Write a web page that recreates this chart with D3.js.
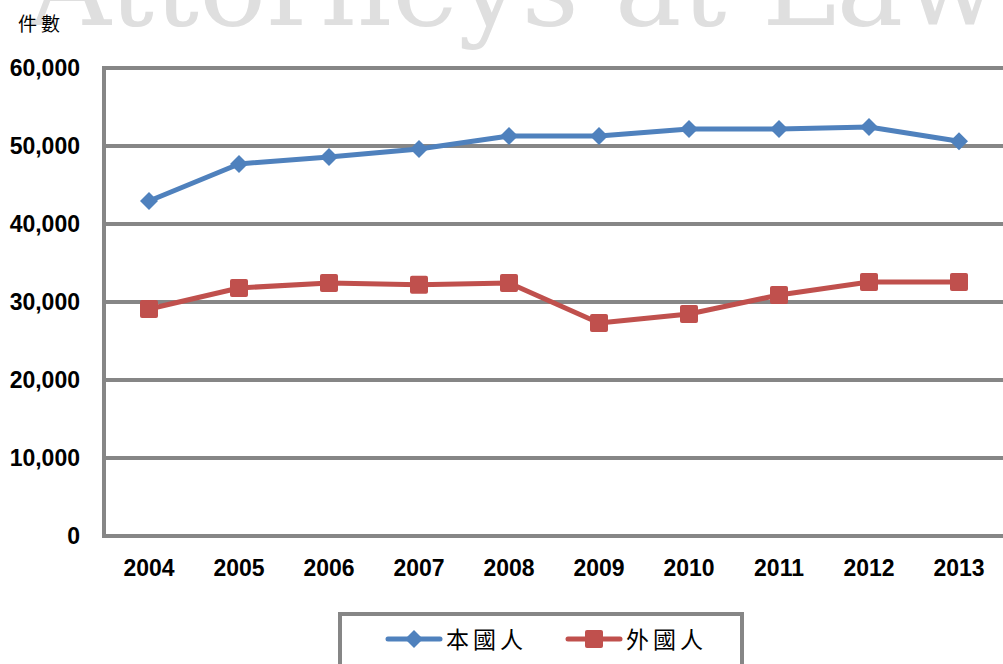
<!DOCTYPE html>
<html>
<head>
<meta charset="utf-8">
<script src="https://cdn.jsdelivr.net/npm/d3@7"></script>
<style>
  body { margin: 0; background: #fff; }
  svg { display: block; }
</style>
</head>
<body>
<div class="visuals"></div>
<script>
var years = ['2004','2005','2006','2007','2008','2009','2010','2011','2012','2013'];
var domestic = [42950, 47700, 48600, 49620, 51280, 51280, 52180, 52180, 52440, 50600];
var foreign = [29100, 31800, 32440, 32200, 32440, 27310, 28460, 30900, 32560, 32560];
var yTicks = [0, 10000, 20000, 30000, 40000, 50000, 60000];
var seriesNames = ['本國人', '外國人'];
var seriesColors = ['#4f81bd', '#c0504d'];

var W = 1003, H = 664;
var plotLeft = 104, plotRight = 1004, plotTop = 68, plotBottom = 536;
var grey = '#868686';

var svg = d3.select('.visuals').append('svg')
  .attr('width', W)
  .attr('height', H);

// faint watermark behind the chart
svg.append('text')
  .text('Attorneys at Law')
  .attr('x', 30)
  .attr('y', 25)
  .style('font-family', '"DejaVu Serif", serif')
  .style('font-size', '112px')
  .style('fill', '#dfdfdf');

var x = d3.scaleBand().domain(years).range([plotLeft, plotRight]);
var y = d3.scaleLinear().domain([0, 60000]).range([plotBottom, plotTop]);

// gridlines
svg.append('g').selectAll('line')
  .data(yTicks)
  .enter().append('line')
  .attr('x1', plotLeft)
  .attr('x2', plotRight)
  .attr('y1', function(d){ return y(d); })
  .attr('y2', function(d){ return y(d); })
  .style('stroke', grey)
  .style('stroke-width', '4px');

// vertical axis line
svg.append('line')
  .attr('x1', plotLeft).attr('x2', plotLeft)
  .attr('y1', y(60000) - 2).attr('y2', y(0) + 2)
  .style('stroke', grey)
  .style('stroke-width', '4px');

var fmt = d3.format(',');

svg.append('g').selectAll('text')
  .data(yTicks)
  .enter().append('text')
  .text(function(d){ return fmt(d); })
  .attr('x', 80)
  .attr('y', function(d){ return y(d); })
  .attr('dy', '0.36em')
  .attr('text-anchor', 'end')
  .style('font-family', '"Liberation Sans", Arial, sans-serif')
  .style('font-weight', 'bold')
  .style('font-size', '23px')
  .style('fill', '#000');

svg.append('g').selectAll('text')
  .data(years)
  .enter().append('text')
  .text(function(d){ return d; })
  .attr('x', function(d){ return x(d) + x.bandwidth() / 2; })
  .attr('y', 576)
  .attr('text-anchor', 'middle')
  .style('font-family', '"Liberation Sans", Arial, sans-serif')
  .style('font-weight', 'bold')
  .style('font-size', '23px')
  .style('fill', '#000');

svg.append('text')
  .text('件數')
  .attr('x', 18)
  .attr('y', 31)
  .style('font-family', '"Noto Sans CJK TC", sans-serif')
  .style('font-size', '19px')
  .style('letter-spacing', '4px')
  .style('fill', '#000');

// lines
var cx = function(d, i){ return x(years[i]) + x.bandwidth() / 2; };
var line = d3.line()
  .x(cx)
  .y(function(d){ return y(d); });

[domestic, foreign].forEach(function(vals, k){
  svg.append('path')
    .datum(vals)
    .attr('d', line)
    .style('fill', 'none')
    .style('stroke', seriesColors[k])
    .style('stroke-width', '5px')
    .style('stroke-linejoin', 'round');
});

svg.append('g').selectAll('path')
  .data(domestic)
  .enter().append('path')
  .attr('d', 'M0,-9L9,0L0,9L-9,0Z')
  .attr('transform', function(d, i){ return 'translate(' + cx(d, i) + ',' + y(d) + ')'; })
  .style('fill', seriesColors[0]);

svg.append('g').selectAll('rect')
  .data(foreign)
  .enter().append('rect')
  .attr('x', function(d, i){ return cx(d, i) - 9; })
  .attr('y', function(d){ return y(d) - 9; })
  .attr('width', 18)
  .attr('height', 18)
  .attr('rx', 2)
  .style('fill', seriesColors[1]);

// legend
svg.append('rect')
  .attr('x', 340)
  .attr('y', 614)
  .attr('width', 402)
  .attr('height', 60)
  .style('fill', '#fff')
  .style('stroke', grey)
  .style('stroke-width', '4px');

var items = [
  { x: 388, marker: 'diamond' },
  { x: 568, marker: 'square' }
];

items.forEach(function(it, k){
  var g = svg.append('g');
  g.append('line')
    .attr('x1', it.x).attr('x2', it.x + 52)
    .attr('y1', 639).attr('y2', 639)
    .style('stroke', seriesColors[k])
    .style('stroke-width', '5px')
    .style('stroke-linecap', 'round');
  if (it.marker === 'diamond') {
    g.append('path')
      .attr('d', 'M0,-9L9,0L0,9L-9,0Z')
      .attr('transform', 'translate(' + (it.x + 26) + ',639)')
      .style('fill', seriesColors[k]);
  } else {
    g.append('rect')
      .attr('x', it.x + 17).attr('y', 630)
      .attr('width', 18).attr('height', 18)
      .attr('rx', 2)
      .style('fill', seriesColors[k]);
  }
  g.append('text')
    .text(seriesNames[k])
    .attr('x', it.x + 58)
    .attr('y', 648)
    .style('font-family', '"Noto Sans CJK TC", sans-serif')
    .style('font-size', '23px')
    .style('letter-spacing', '4px')
    .style('fill', '#000');
});
</script>
</body>
</html>
